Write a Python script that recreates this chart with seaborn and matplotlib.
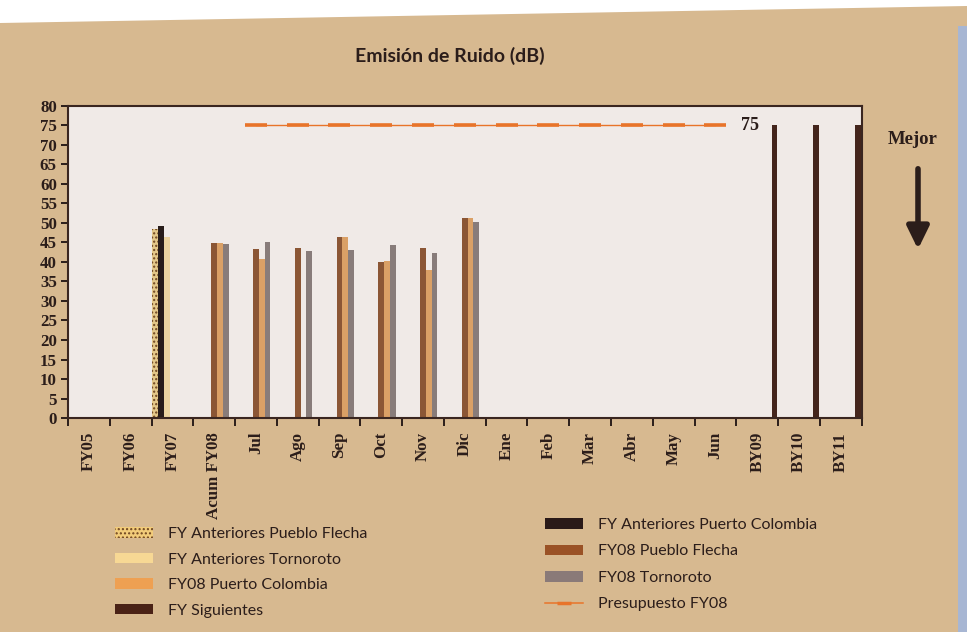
import numpy as np
import pandas as pd
import matplotlib
matplotlib.use('agg')
import matplotlib.pyplot as plt
import seaborn as sns
from matplotlib.patches import Patch, Polygon, Rectangle
from matplotlib.lines import Line2D

# categories on the x axis
categories = ["FY05", "FY06", "FY07", "Acum FY08", "Jul", "Ago", "Sep", "Oct",
              "Nov", "Dic", "Ene", "Feb", "Mar", "Abr", "May", "Jun",
              "BY09", "BY10", "BY11"]

# series (dB)
ant_pueblo_cats = ["FY07"]
ant_pueblo_vals = [48.5]
ant_puerto_cats = ["FY07"]
ant_puerto_vals = [49.3]
ant_torno_cats = ["FY07"]
ant_torno_vals = [46.5]
fy08_pueblo_cats = ["Acum FY08", "Jul", "Ago", "Sep", "Oct", "Nov", "Dic"]
fy08_pueblo_vals = [44.9, 43.4, 43.7, 46.3, 40.0, 43.6, 51.4]
fy08_puerto_cats = ["Acum FY08", "Jul", "Sep", "Oct", "Nov", "Dic"]
fy08_puerto_vals = [44.8, 40.8, 46.3, 40.2, 38.0, 51.4]
fy08_torno_cats = ["Acum FY08", "Jul", "Ago", "Sep", "Oct", "Nov", "Dic"]
fy08_torno_vals = [44.5, 45.0, 42.7, 43.0, 44.3, 42.3, 50.3]
siguientes_cats = ["BY09", "BY10", "BY11"]
siguientes_vals = [75, 75, 75]

budget_cats = ["Jul", "Ago", "Sep", "Oct", "Nov", "Dic", "Ene", "Feb", "Mar",
               "Abr", "May", "Jun"]
budget_vals = [75] * 12

series_names = ["FY Anteriores Pueblo Flecha", "FY Anteriores Puerto Colombia",
                "FY Anteriores Tornoroto", "FY08 Pueblo Flecha",
                "FY08 Puerto Colombia", "FY08 Tornoroto", "FY Siguientes"]
series_colors = ["#f2cc7a", "#2a1a18", "#f7d894", "#9a5226", "#eea052",
                 "#8a7a78", "#4a2216"]

series_data = [(ant_pueblo_cats, ant_pueblo_vals), (ant_puerto_cats, ant_puerto_vals),
               (ant_torno_cats, ant_torno_vals), (fy08_pueblo_cats, fy08_pueblo_vals),
               (fy08_puerto_cats, fy08_puerto_vals), (fy08_torno_cats, fy08_torno_vals),
               (siguientes_cats, siguientes_vals)]

rows = []
for name, (cats, vals) in zip(series_names, series_data):
    for c, v in zip(cats, vals):
        rows.append({"cat": c, "serie": name, "dB": v})
df = pd.DataFrame(rows)

dark = "#2b1d1a"
tan = "#d7b990"
plot_bg = "#f0eae7"
orange_line = "#e8742a"

fig = plt.figure(figsize=(9.67, 6.32), dpi=100, facecolor=tan)
ax = fig.add_axes([0.0703, 0.3386, 0.8207, 0.4937])
ax.set_facecolor(plot_bg)

# scan artefacts: white paper strip on top, blue edge on the right
fig.patches.append(Polygon([[0, 1], [1, 1], [1, 1 - 6 / 632], [0, 1 - 23 / 632]],
                           closed=True, transform=fig.transFigure,
                           facecolor="white", edgecolor="none", zorder=-5))
fig.patches.append(Rectangle((958 / 967, 0), 9 / 967, 1 - 26 / 632,
                             transform=fig.transFigure, facecolor="#a7b6d3",
                             edgecolor="none", zorder=-5))

sns.barplot(data=df, x="cat", y="dB", hue="serie", order=categories,
            hue_order=series_names, palette=series_colors, dodge=True,
            width=0.97, errorbar=None, linewidth=0, legend=False, ax=ax)

# dotted pattern for the first series
for bar in ax.containers[0]:
    bar.set_hatch("....")
    bar.set_edgecolor("#6e4420")
    bar.set_linewidth(0)

# budget line
budget_x = [categories.index(c) for c in budget_cats]
sns.lineplot(x=budget_x, y=budget_vals, color=orange_line, linewidth=1.0,
             marker="_", markersize=16, markeredgewidth=2.6,
             markeredgecolor=orange_line, ax=ax)
ax.annotate("75", xy=(budget_x[-1], budget_vals[-1]), xytext=(25, 0),
            textcoords="offset points", ha="center", va="center",
            fontsize=13, fontweight="bold", family="Liberation Serif", color=dark)

ax.set_xlim(-0.5, len(categories) - 0.5)
ax.set_ylim(0, 80)
ax.set_yticks(np.arange(0, 81, 5))
ax.set_xticks(range(len(categories)))
ax.set_xticklabels(categories, rotation=90)
ax.set_xticks(np.arange(-0.5, len(categories), 1), minor=True)
ax.tick_params(axis="x", which="major", length=0, pad=10)
ax.tick_params(axis="x", which="minor", length=6, width=1.4, color=dark, direction="out")
ax.tick_params(axis="y", length=5, width=1.4, color=dark, direction="out", pad=3)
for lab in ax.get_xticklabels() + ax.get_yticklabels():
    lab.set_family("Liberation Serif")
    lab.set_fontweight("bold")
    lab.set_fontsize(12.2)
    lab.set_color(dark)
ax.set_xlabel("")
ax.set_ylabel("")
for sp in ax.spines.values():
    sp.set_color("#3a2620")
    sp.set_linewidth(1.5)

fig.text(450 / 967, 1 - 56 / 632, "Emisión de Ruido (dB)", ha="center", va="center",
         fontsize=14, fontweight="bold", family="Lato", color=dark)
fig.text(913 / 967, 1 - 140 / 632, "Mejor", ha="center", va="center",
         fontsize=13.5, fontweight="bold", family="Liberation Serif", color=dark)
ax.annotate("", xy=(918 / 967, 1 - 252 / 632), xytext=(918 / 967, 1 - 166 / 632),
            xycoords="figure fraction", textcoords="figure fraction",
            arrowprops=dict(arrowstyle="-|>,head_length=0.45,head_width=0.22",
                            lw=4, color=dark, mutation_scale=30))

# legend, two columns
def bar_handle(i):
    if i == 0:
        return Patch(facecolor=series_colors[0], edgecolor="#6e4420", hatch="....", linewidth=0)
    return Patch(facecolor=series_colors[i], edgecolor="none")

budget_handle = Line2D([0], [0], color=orange_line, linewidth=1.1, marker="_",
                       markersize=10, markeredgewidth=2.5)
left_idx = [0, 2, 4, 6]
right_idx = [1, 3, 5]
leg_kw = dict(frameon=False, handlelength=2.4, handleheight=0.65,
              handletextpad=0.9, borderpad=0, borderaxespad=0,
              prop={"family": "Lato", "size": 11.5})
leg1 = fig.legend([bar_handle(i) for i in left_idx], [series_names[i] for i in left_idx],
                  loc="upper left", bbox_to_anchor=(115 / 967, 1 - 527 / 632),
                  labelspacing=0.72, **leg_kw)
leg2 = fig.legend([bar_handle(i) for i in right_idx] + [budget_handle],
                  [series_names[i] for i in right_idx] + ["Presupuesto FY08"],
                  loc="upper left", bbox_to_anchor=(545 / 967, 1 - 518 / 632),
                  labelspacing=0.78, **leg_kw)
for leg in (leg1, leg2):
    for t in leg.get_texts():
        t.set_color(dark)

fig.savefig("out.png", dpi=100, facecolor=fig.get_facecolor())
